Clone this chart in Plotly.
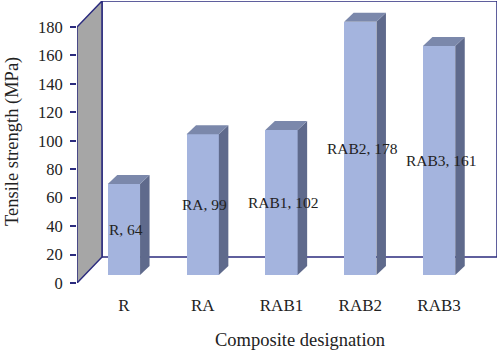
import plotly.graph_objects as go

categories = ["R", "RA", "RAB1", "RAB2", "RAB3"]
values = [64, 99, 102, 178, 161]
y_ticks = [0, 20, 40, 60, 80, 100, 120, 140, 160, 180]

# geometry of the pseudo-3D frame (in axis units)
PPU_Y = 256 / 180.0          # pixels per y unit
PPU_X = 78.8                 # pixels per category
W_DEPTH_X = 25 / PPU_X       # back wall depth offset
W_DEPTH_Y = 26 / PPU_Y
BAR_BASE = 8 / PPU_Y         # bar front plane offset
BAR_W = 32.3 / PPU_X
BAR_DX = 9.5 / PPU_X
BAR_DY = 9 / PPU_Y
X0 = (77 - 123.9) / PPU_X
X1 = (497 - 123.9) / PPU_X
YMAX = 282 / PPU_Y
YTOP = max(y_ticks)

NAVY = "#2b2b7e"
FRONT = "#a4b4de"
SIDE = "#5f6a8c"
TOP = "#7b88ab"
TXT = "#222222"
FONT = "Liberation Serif"

fig = go.Figure()

# left gray side wall
fig.add_trace(go.Scatter(
    x=[X0, X0, X0 + W_DEPTH_X, X0 + W_DEPTH_X, X0],
    y=[0, YTOP, YTOP + W_DEPTH_Y, W_DEPTH_Y, 0],
    fill="toself", fillcolor="#a6a6a6", mode="lines",
    line=dict(color=NAVY, width=1.5), hoverinfo="skip", showlegend=False))

xs = list(range(len(categories)))

# bar fronts
fig.add_trace(go.Bar(
    x=xs, y=values, base=[BAR_BASE] * len(values), width=BAR_W,
    marker=dict(color=FRONT, line=dict(width=0)), showlegend=False, hoverinfo="skip"))

# sides and tops
for i, v in zip(xs, values):
    r = i + BAR_W / 2
    l = i - BAR_W / 2
    b = BAR_BASE
    t = BAR_BASE + v
    fig.add_trace(go.Scatter(
        x=[r, r + BAR_DX, r + BAR_DX, r, r],
        y=[b, b + BAR_DY, t + BAR_DY, t, b],
        fill="toself", fillcolor=SIDE, mode="lines", line=dict(width=0, color=SIDE),
        hoverinfo="skip", showlegend=False))
    fig.add_trace(go.Scatter(
        x=[l, r, r + BAR_DX, l + BAR_DX, l],
        y=[t, t, t + BAR_DY, t + BAR_DY, t],
        fill="toself", fillcolor=TOP, mode="lines", line=dict(width=0, color=TOP),
        hoverinfo="skip", showlegend=False))

# back wall
fig.add_shape(type="rect", xref="x", yref="y",
              x0=X0 + W_DEPTH_X, x1=X1, y0=W_DEPTH_Y, y1=YMAX,
              line=dict(color=NAVY, width=1.5), fillcolor="white", layer="below")

annotations = []
for i, (c, v) in enumerate(zip(categories, values)):
    annotations.append(dict(
        x=i, y=BAR_BASE + v / 2, xref="x", yref="y", text=f"{c}, {v}",
        showarrow=False, font=dict(family=FONT, size=15.5, color=TXT), xshift=2))

annotations.append(dict(
    x=0, y=0.5, xref="paper", yref="paper", text="Tensile strength (MPa)",
    textangle=-90, showarrow=False, xanchor="center", yanchor="middle",
    xshift=-65, font=dict(family=FONT, size=18.5, color=TXT)))
annotations.append(dict(
    x=(300 - 77) / 420, y=0, xref="paper", yref="paper", text="Composite designation",
    showarrow=False, xanchor="center", yanchor="middle", yshift=-57,
    font=dict(family=FONT, size=18.5, color=TXT)))

fig.update_layout(
    width=500, height=352,
    margin=dict(l=77, r=3, t=1, b=69),
    paper_bgcolor="white", plot_bgcolor="white",
    bargap=0, barmode="overlay",
    annotations=annotations,
    xaxis=dict(range=[X0, X1], tickvals=xs, ticktext=categories,
               showgrid=False, zeroline=False, showline=False, ticks="",
               ticklabelstandoff=10,
               tickfont=dict(family=FONT, size=17, color=TXT), fixedrange=True),
    yaxis=dict(range=[0, YMAX], tickvals=y_ticks, showgrid=False, zeroline=False,
               showline=False, ticks="outside", ticklen=6, tickcolor=NAVY, tickwidth=1.5,
               ticklabelstandoff=4,
               tickfont=dict(family=FONT, size=16.5, color=TXT), fixedrange=True),
)

fig.write_html("out.html")
